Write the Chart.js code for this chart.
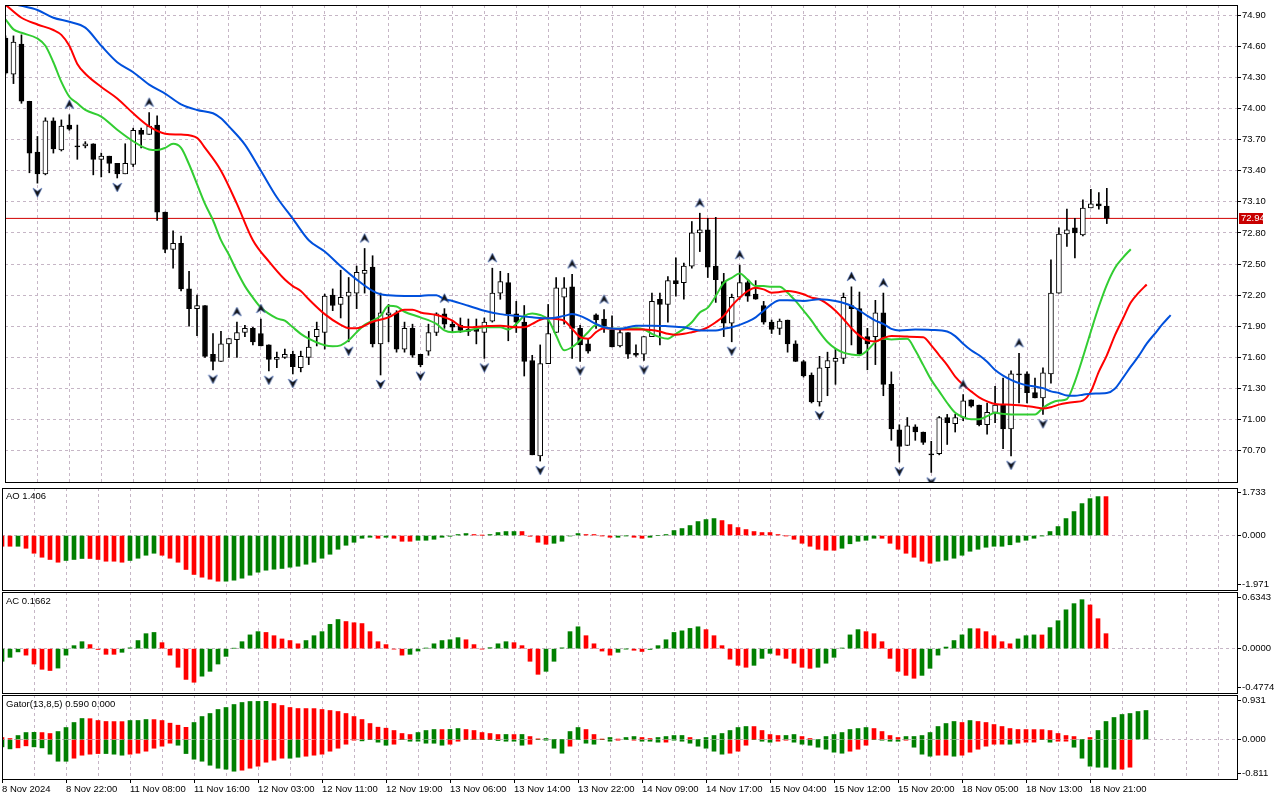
<!DOCTYPE html>
<html>
<head>
<meta charset="utf-8">
<title>Brent H1 - Alligator, AO, AC, Gator</title>
<script src="https://cdn.jsdelivr.net/npm/chart.js@4.4.1/dist/chart.umd.min.js"></script>
<style>
  html, body { margin: 0; padding: 0; background: #fff; }
  #wrap { position: relative; width: 1280px; height: 800px; overflow: hidden; font-family: 'Liberation Sans', Arial, sans-serif; }
  #wrap canvas { position: absolute; left: 0; }
  .lbl { position: absolute; left: 6px; font-size: 9.5px; line-height: 10px; color: #000; white-space: nowrap; }
</style>
</head>
<body>
<div id="wrap">
  <canvas id="main" width="1280" height="487" style="top:0px"></canvas>
  <canvas id="ao" width="1280" height="104" style="top:487px"></canvas>
  <canvas id="ac" width="1280" height="103" style="top:591px"></canvas>
  <canvas id="gator" width="1280" height="106" style="top:694px"></canvas>
  <div class="lbl" style="top:491px">AO 1.406</div>
  <div class="lbl" style="top:596px">AC 0.1662</div>
  <div class="lbl" style="top:699px">Gator(13,8,5) 0.590 0.000</div>
</div>
<script>
// ---- candles (H1) ----
const opens = [
  74.68,74.33,74.62,74.07,73.58,73.37,73.88,73.60,73.84,73.64,
  73.64,73.66,73.51,73.54,73.47,73.37,73.46,73.79,73.75,73.84,
  73.00,72.64,72.70,72.26,72.07,72.10,71.63,71.56,71.73,71.77,
  71.84,71.88,71.83,71.72,71.58,71.60,71.63,71.50,71.60,71.80,
  71.84,72.20,72.11,72.19,72.22,72.41,72.47,71.73,72.01,72.03,
  71.68,71.88,71.63,71.66,71.84,72.02,71.92,71.91,71.87,71.87,
  71.84,71.95,72.22,72.32,72.02,71.94,71.57,70.65,71.54,71.84,
  72.18,72.28,71.88,71.73,72.01,71.97,71.86,71.71,71.84,71.64,
  71.63,71.80,72.16,72.11,72.34,72.32,72.48,72.80,72.83,72.48,
  72.33,71.93,72.18,72.32,72.21,72.10,71.94,71.88,71.96,71.73,
  71.56,71.43,71.17,71.50,71.56,71.59,72.10,72.07,71.80,71.80,
  72.03,71.34,70.90,70.75,70.93,70.88,70.67,70.67,71.02,70.96,
  71.02,71.19,71.14,70.95,71.07,71.14,70.91,71.44,71.44,71.26,
  71.21,71.44,72.22,72.79,72.85,72.78,73.04,73.08,73.06
];
const highs = [
  74.70,74.70,74.71,74.07,73.73,73.91,73.91,73.89,73.94,73.84,
  73.68,73.66,73.57,73.54,73.47,73.66,73.81,73.81,73.96,73.93,
  73.00,72.82,72.77,72.43,72.20,72.10,71.83,71.85,71.78,71.94,
  71.91,71.89,71.97,71.72,71.65,71.68,71.66,71.66,71.85,71.94,
  72.21,72.26,72.44,72.37,72.48,72.65,72.58,72.22,72.11,72.05,
  71.94,71.92,71.63,71.92,72.03,72.07,71.95,71.98,71.97,71.97,
  71.98,72.46,72.43,72.41,72.14,72.10,71.62,71.72,72.11,72.37,
  72.37,72.40,71.91,71.78,72.02,72.06,72.00,71.88,71.84,71.72,
  71.80,72.22,72.22,72.38,72.56,72.51,72.91,72.99,72.94,72.95,
  72.41,72.21,72.49,72.34,72.34,72.14,71.96,71.97,71.96,71.76,
  71.57,71.45,71.61,71.65,71.68,72.22,72.28,72.23,71.88,72.15,
  72.22,71.46,70.95,71.02,70.95,70.88,70.79,71.03,71.05,71.05,
  71.24,71.19,71.14,71.16,71.32,71.40,71.47,71.64,71.46,71.40,
  71.50,72.54,72.85,73.03,72.94,73.12,73.22,73.19,73.23
];
const lows = [
  74.33,74.24,74.05,73.38,73.28,73.36,73.57,73.59,73.79,73.51,
  73.62,73.36,73.34,73.38,73.33,73.37,73.44,73.62,73.75,72.92,
  72.61,72.46,72.24,71.90,71.81,71.60,71.48,71.56,71.60,71.60,
  71.80,71.72,71.71,71.47,71.50,71.59,71.44,71.46,71.53,71.71,
  71.68,72.05,71.98,71.75,72.07,72.22,71.70,71.43,71.75,71.65,
  71.65,71.60,71.51,71.62,71.81,71.88,71.84,71.84,71.81,71.73,
  71.59,71.94,72.16,71.76,71.84,71.42,70.66,70.60,71.54,71.84,
  71.92,71.59,71.56,71.64,71.88,71.84,71.70,71.70,71.59,71.61,
  71.57,71.80,71.72,71.94,72.19,72.16,72.46,72.62,72.37,72.13,
  71.80,71.75,72.16,72.14,72.16,71.92,71.83,71.82,71.65,71.56,
  71.41,71.16,71.13,71.23,71.34,71.54,71.72,71.62,71.48,71.53,
  71.23,70.80,70.59,70.75,70.80,70.76,70.49,70.66,70.76,70.88,
  70.99,71.12,70.94,70.86,70.97,70.72,70.65,71.16,71.16,71.21,
  71.05,71.35,72.22,72.67,72.56,72.77,73.04,73.03,72.89
];
const closes = [
  74.34,74.64,74.07,73.57,73.37,73.88,73.61,73.83,73.80,73.63,
  73.66,73.51,73.54,73.47,73.37,73.47,73.79,73.75,73.83,73.00,
  72.64,72.70,72.26,72.07,72.10,71.61,71.56,71.73,71.78,71.84,
  71.88,71.75,71.71,71.58,71.60,71.63,71.51,71.61,71.70,71.87,
  72.19,72.10,72.18,72.23,72.42,72.44,71.73,72.03,72.03,71.68,
  71.88,71.62,71.53,71.84,72.02,71.92,71.89,71.86,71.85,71.85,
  71.94,72.22,72.33,72.02,71.94,71.56,70.66,71.54,71.83,72.27,
  72.27,71.88,71.72,71.66,71.96,71.90,71.70,71.84,71.63,71.62,
  71.80,72.14,72.11,72.34,72.31,72.48,72.80,72.83,72.47,72.35,
  71.93,72.18,72.32,72.19,72.16,71.94,71.87,71.95,71.73,71.56,
  71.42,71.17,71.50,71.57,71.59,72.18,72.07,71.63,71.73,72.03,
  71.34,70.91,70.74,70.94,70.88,70.78,70.66,71.02,70.97,71.02,
  71.18,71.13,70.95,71.07,71.14,70.91,71.44,71.43,71.26,71.21,
  71.45,72.22,72.79,72.83,72.80,73.04,73.08,73.06,72.94
];
const lastPrice = 72.94;

// bar indexes carrying Bill Williams fractal arrows
const fractalUp = [8, 18, 29, 32, 45, 55, 61, 71, 75, 87, 92, 106, 110, 120, 127];
const fractalDown = [4, 14, 26, 33, 36, 43, 47, 52, 60, 67, 72, 80, 91, 102, 112, 116, 126, 130];

// Alligator lines, [bar index, price] read at sample bars
const jawLine = [
  [0,75.02],[2,74.99],[4,74.95],[6,74.875],[8,74.836],[10,74.78],[12,74.605],[14,74.446],[16,74.35],[18,74.23],
  [20,74.144],[22,74.04],[24,73.986],[26,73.954],[27,73.906],[28,73.827],[30,73.652],[32,73.40],[34,73.144],[36,72.938],
  [38,72.73],[40,72.62],[42,72.478],[44,72.35],[46,72.24],[47,72.208],[48,72.198],[50,72.192],[52,72.192],[53,72.20],
  [54,72.198],[55,72.16],[56,72.144],[58,72.097],[60,72.05],[62,72.017],[64,72.0],[66,71.986],[68,71.976],[70,72.0],
  [71,72.017],[72,72.0],[73,71.963],[74,71.922],[75,71.89],[77,71.875],[79,71.906],[81,71.906],[83,71.90],[85,71.89],
  [87,71.86],[89,71.86],[90,71.875],[91,71.89],[92,71.913],[93,71.944],[94,71.986],[95,72.05],[96,72.113],[97,72.151],
  [98,72.151],[100,72.144],[102,72.16],[104,72.144],[106,72.097],[108,72.0],[109,71.954],[110,71.922],[111,71.875],[112,71.86],
  [114,71.868],[116,71.865],[118,71.849],[119,71.805],[120,71.732],[121,71.668],[122,71.62],[123,71.557],[124,71.478],[125,71.424],
  [126,71.383],[127,71.351],[128,71.33],[129,71.32],[130,71.303],[131,71.272],[132,71.256],[133,71.233],[134,71.23],[135,71.24],
  [136,71.25],[138,71.256],[139,71.297],[140,71.40],[141,71.51],[142,71.614],[143,71.732],[144,71.827],[145,71.922],[146,72.008]
];
const teethLine = [
  [0,75.0],[2,74.875],[4,74.81],[6,74.757],[7,74.71],[8,74.605],[9,74.43],[10,74.335],[12,74.208],[14,74.097],
  [16,73.954],[18,73.827],[20,73.757],[22,73.748],[24,73.716],[25,73.62],[27,73.40],[29,73.08],[31,72.73],[33,72.525],
  [35,72.35],[36,72.287],[37,72.24],[38,72.16],[40,72.017],[42,71.913],[43,71.881],[44,71.881],[46,71.944],[48,71.986],
  [50,72.06],[51,72.06],[52,72.033],[54,72.008],[56,71.954],[57,71.90],[58,71.89],[60,71.90],[62,71.906],[64,71.89],
  [65,71.89],[66,71.922],[67,71.963],[68,71.976],[69,71.97],[70,71.954],[71,71.875],[72,71.795],[73,71.78],[74,71.843],
  [75,71.881],[76,71.875],[78,71.868],[80,71.868],[82,71.849],[83,71.827],[84,71.817],[85,71.827],[86,71.843],[87,71.86],
  [88,71.89],[89,71.938],[90,72.0],[91,72.097],[92,72.176],[93,72.24],[94,72.271],[95,72.256],[96,72.224],[97,72.23],
  [98,72.24],[99,72.23],[100,72.208],[101,72.176],[102,72.16],[103,72.113],[104,72.05],[105,71.97],[106,71.881],[107,71.81],
  [108,71.764],[109,71.754],[110,71.786],[111,71.805],[113,71.80],[115,71.795],[116,71.716],[117,71.62],[118,71.525],[119,71.414],
  [120,71.335],[121,71.272],[122,71.214],[123,71.176],[124,71.151],[126,71.144],[127,71.138],[128,71.129],[129,71.119],[130,71.106],
  [131,71.119],[132,71.144],[133,71.16],[134,71.17],[135,71.183],[136,71.272],[137,71.462],[138,71.62],[139,71.81],[140,71.97],
  [141,72.129],[142,72.224],[143,72.303]
];
const lipsLine = [
  [0,74.86],[1,74.763],[2,74.73],[4,74.675],[5,74.605],[6,74.446],[7,74.256],[8,74.113],[9,74.05],[10,73.986],
  [12,73.922],[14,73.795],[16,73.684],[18,73.605],[19,73.60],[20,73.62],[21,73.659],[22,73.62],[23,73.462],[24,73.271],
  [25,73.08],[26,72.922],[27,72.73],[28,72.589],[29,72.43],[30,72.287],[31,72.176],[32,72.08],[34,71.976],[35,71.954],
  [36,71.89],[37,71.827],[38,71.78],[40,71.716],[41,71.706],[42,71.716],[43,71.764],[44,71.843],[45,71.913],[46,71.954],
  [47,72.0],[48,72.097],[49,72.09],[50,72.04],[52,71.986],[54,71.922],[55,71.86],[56,71.843],[58,71.86],[60,71.89],
  [62,71.89],[63,71.868],[64,71.922],[65,72.0],[66,72.024],[67,72.008],[68,71.963],[69,71.81],[70,71.668],[71,71.70],
  [72,71.764],[73,71.843],[74,71.913],[75,71.89],[76,71.875],[78,71.875],[79,71.881],[80,71.868],[81,71.827],[82,71.795],
  [83,71.78],[84,71.827],[85,71.875],[86,71.938],[87,72.033],[88,72.08],[89,72.192],[90,72.319],[91,72.367],[92,72.408],
  [93,72.35],[94,72.287],[95,72.287],[96,72.281],[97,72.281],[98,72.224],[99,72.144],[100,72.05],[101,71.954],[102,71.843],
  [103,71.748],[104,71.684],[105,71.646],[106,71.627],[107,71.62],[108,71.668],[109,71.748],[110,71.78],[111,71.773],[113,71.78],
  [114,71.668],[115,71.525],[116,71.383],[117,71.272],[118,71.16],[119,71.065],[120,71.024],[121,71.002],[122,71.002],[123,71.033],
  [124,71.065],[125,71.055],[126,71.049],[129,71.049],[130,71.113],[131,71.16],[132,71.183],[133,71.198],[134,71.367],[135,71.60],
  [136,71.85],[137,72.09],[138,72.30],[139,72.46],[140,72.56],[141,72.643]
];

// Awesome Oscillator
const aoValues = [
  -0.43,-0.43,-0.43,-0.51,-0.71,-0.87,-0.96,-1.07,-1.00,-0.96,
  -0.92,-0.92,-0.96,-1.03,-1.03,-1.07,-1.00,-0.91,-0.79,-0.71,
  -0.79,-0.91,-1.07,-1.36,-1.56,-1.67,-1.75,-1.83,-1.83,-1.79,
  -1.71,-1.59,-1.47,-1.39,-1.35,-1.32,-1.27,-1.23,-1.15,-1.07,
  -0.91,-0.75,-0.55,-0.39,-0.27,-0.11,-0.07,-0.11,-0.07,-0.11,
  -0.23,-0.23,-0.19,-0.19,-0.15,-0.07,-0.03,0.04,0.08,0.04,
  0.01,0.04,0.12,0.16,0.16,0.16,-0.03,-0.27,-0.35,-0.31,
  -0.23,-0.02,0.08,0.04,0.04,-0.01,-0.07,-0.07,-0.01,-0.07,
  -0.11,-0.07,0.00,0.04,0.20,0.28,0.40,0.56,0.64,0.68,
  0.60,0.44,0.32,0.24,0.16,0.12,0.12,0.04,-0.01,-0.15,
  -0.31,-0.43,-0.55,-0.59,-0.59,-0.51,-0.33,-0.23,-0.19,-0.11,
  -0.11,-0.31,-0.55,-0.71,-0.87,-1.03,-1.11,-1.03,-0.99,-0.91,
  -0.79,-0.63,-0.55,-0.47,-0.43,-0.43,-0.37,-0.27,-0.19,-0.11,
  -0.01,0.16,0.36,0.68,0.96,1.28,1.48,1.56,1.56
];
const aoColors = 'rrgrrrrrgg' + 'grrrrrgggg' + 'rrrrrrrrgg' + 'gggggggggg' + 'gggggggrgr' +
  'rrgggggggr' + 'rggggrrrrg' + 'gggrrrrggr' + 'rggggggggg' + 'rrrrrrrrrr' +
  'rrrrrggggg' + 'rrrrrrrggg' + 'gggggggggg' + 'ggggggggr';

// Accelerator Oscillator
const acValues = [
  -0.156,-0.107,-0.04,-0.08,-0.19,-0.255,-0.27,-0.24,-0.08,0.037,
  0.086,0.05,-0.01,-0.07,-0.07,-0.045,0.01,0.10,0.185,0.20,
  0.074,-0.08,-0.23,-0.38,-0.415,-0.34,-0.28,-0.19,-0.095,0.005,
  0.086,0.17,0.21,0.20,0.16,0.12,0.10,0.06,0.10,0.16,
  0.21,0.30,0.36,0.335,0.32,0.31,0.21,0.086,0.05,-0.005,
  -0.08,-0.07,-0.03,0.008,0.06,0.10,0.11,0.136,0.11,0.05,
  -0.004,0.012,0.06,0.086,0.074,0.037,-0.156,-0.317,-0.28,-0.156,
  0.01,0.21,0.27,0.16,0.06,-0.03,-0.08,-0.045,-0.003,-0.02,
  -0.035,-0.01,0.037,0.11,0.20,0.22,0.25,0.27,0.235,0.16,
  0.037,-0.13,-0.206,-0.23,-0.206,-0.12,-0.058,-0.08,-0.12,-0.18,
  -0.23,-0.243,-0.23,-0.18,-0.107,0.008,0.17,0.235,0.21,0.185,
  0.086,-0.12,-0.28,-0.33,-0.366,-0.33,-0.243,-0.08,0.02,0.10,
  0.17,0.247,0.246,0.21,0.16,0.086,0.06,0.12,0.16,0.17,
  0.169,0.26,0.345,0.48,0.556,0.605,0.54,0.37,0.185
];
const acColors = 'gggrrrrggg' + 'grrrrggggg' + 'rrrrrggggg' + 'gggrrrrrgg' + 'gggrrrrrrr' +
  'rgggggggrr' + 'rgggrrrrgg' + 'gggrrrrggr' + 'rgggggggrr' + 'rrrrgggrrr' +
  'rrggggggrr' + 'rrrrrggggg' + 'ggrrrrrggg' + 'rgggggrrr';

// Gator: upper |jaw - teeth| and lower |teeth - lips| (drawn below zero)
const gatorUpper = [
  0.048,0.024,0.095,0.166,0.17,0.165,0.143,0.19,0.285,0.404,
  0.499,0.495,0.451,0.428,0.426,0.425,0.451,0.452,0.475,0.473,
  0.451,0.388,0.34,0.29,0.404,0.546,0.618,0.713,0.76,0.831,
  0.879,0.903,0.905,0.906,0.855,0.808,0.76,0.736,0.735,0.734,
  0.713,0.689,0.665,0.618,0.546,0.475,0.38,0.293,0.269,0.214,
  0.143,0.119,0.166,0.214,0.238,0.237,0.24,0.261,0.238,0.214,
  0.166,0.143,0.119,0.12,0.118,0.12,0.071,0.016,0.024,0,
  0,0.19,0.285,0.238,0.119,0.008,0.048,0.008,0.048,0.071,
  0.048,0.024,0.048,0.071,0.095,0.096,0.048,0,0.048,0.095,
  0.143,0.214,0.285,0.309,0.308,0.214,0.119,0.095,0.096,0.119,
  0.071,0.024,0,0.071,0.119,0.166,0.238,0.261,0.285,0.261,
  0.19,0.095,0.048,0.071,0.072,0.095,0.166,0.309,0.38,0.428,
  0.404,0.451,0.428,0.404,0.356,0.309,0.261,0.238,0.237,0.236,
  0.235,0.214,0.143,0.095,0.071,0,0.048,0.214,0.428,0.523,
  0.594,0.618,0.665,0.689
];
const gatorUpperColors = 'rrgggrrggg' + 'grrrrrgggr' + 'rrrrgggggg' + 'ggggrrrrrr' + 'rrrrrrrrrr' +
  'rrgggrggrr' + 'rrrgrgrrgg' + 'gggrrrgrgg' + 'rrggggrggg' + 'ggggrrrrgg' +
  'rrgggggggr' + 'rrrggggggg' + 'rgrrrrrrrr' + 'rrrrrgrggg' + 'gggg';
const gatorLower = [
  0.174,0.222,0.198,0.15,0.174,0.198,0.348,0.515,0.516,0.443,
  0.372,0.348,0.333,0.333,0.348,0.372,0.348,0.325,0.277,0.206,
  0.158,0.087,0.135,0.333,0.467,0.515,0.61,0.681,0.705,0.752,
  0.728,0.681,0.633,0.538,0.491,0.443,0.444,0.42,0.396,0.372,
  0.348,0.277,0.206,0.111,0.016,0.032,0,0.063,0.135,0.111,
  0,0.04,0.04,0.087,0.088,0.135,0.111,0.04,0,0,
  0,0,0.024,0.04,0.04,0.135,0.111,0,0.016,0.206,
  0.325,0.158,0,0.087,0.111,0,0.04,0.016,0,0.016,
  0.04,0.04,0.063,0.062,0.016,0.04,0.087,0.158,0.206,0.277,
  0.348,0.325,0.277,0.135,0,0.04,0.063,0.04,0.016,0.063,
  0.111,0.135,0.182,0.23,0.30,0.325,0.277,0.23,0.135,0,
  0.016,0.04,0.041,0.016,0.182,0.348,0.396,0.372,0.371,0.396,
  0.372,0.30,0.23,0.158,0.111,0.11,0.111,0.087,0.063,0.062,
  0,0.063,0.04,0.039,0.182,0.443,0.633,0.657,0.658,0.705,
  0.704,0.657
];
const gatorLowerColors = 'ggrrgggggr' + 'rrrgggrrrr' + 'rrgggggggg' + 'rrrrrrggrr' + 'rrrrrggggr' +
  'ggggggrrgg' + 'ggggggrggg' + 'grgggggrgr' + 'gggrgggggg' + 'grrrgggrrg' +
  'ggggggrrrg' + 'gggrgggrrg' + 'rrrrrrgrrr' + 'ggrrgggggg' + 'rr';

// axis tick values
const priceTicks = [74.90, 74.60, 74.30, 74.00, 73.70, 73.40, 73.10, 72.80, 72.50, 72.20, 71.90, 71.60, 71.30, 71.00, 70.70];
const aoTicks = [1.733, 0, -1.971];
const acTicks = [0.6343, 0, -0.4774];
const gatorTicks = [0.931, 0, -0.811];
const timeLabels = ['8 Nov 2024', '8 Nov 22:00', '11 Nov 08:00', '11 Nov 16:00', '12 Nov 03:00', '12 Nov 11:00',
  '12 Nov 19:00', '13 Nov 06:00', '13 Nov 14:00', '13 Nov 22:00', '14 Nov 09:00', '14 Nov 17:00',
  '15 Nov 04:00', '15 Nov 12:00', '15 Nov 20:00', '18 Nov 05:00', '18 Nov 13:00', '18 Nov 21:00'];

// ---- look ----
const FONT = { family: "'Liberation Sans', Arial, sans-serif", size: 9.5 };
const GRID = '#c6b6c6';
const GREEN = '#008000';
const RED = '#ff0000';
const CLEAR = 'rgba(0,0,0,0)';
const AXIS_W = 43;
const BAR_PX = 8;
const X_MIN = -0.0625;
const X_MAX = X_MIN + 1235 / BAR_PX;

Chart.defaults.font.family = FONT.family;
Chart.defaults.animation = false;

const gridIdx = [];
for (let v = 0; v <= 152; v += 4) gridIdx.push(v);

// labels may overflow the plot box, as in the terminal: no extra padding
function noPad(s) {
  s.paddingTop = 0;
  s.paddingBottom = 0;
  s.paddingLeft = 0;
  s.paddingRight = 0;
}

function xScale(showLabels, xmin) {
  return {
    type: 'linear',
    position: 'bottom',
    min: xmin,
    max: xmin + 1235 / BAR_PX,
    offset: false,
    afterBuildTicks: s => { s.ticks = gridIdx.map(v => ({ value: v })); },
    afterFit: s => { s.height = showLabels ? 21 : 0; noPad(s); },
    grid: {
      offset: false,
      color: GRID,
      drawTicks: showLabels,
      tickLength: 4,
      tickColor: c => (c.tick && c.tick.value % 8 === 0 && c.tick.value <= 136) ? '#000' : CLEAR
    },
    border: { display: false, dash: [3, 3] },
    ticks: {
      display: showLabels,
      autoSkip: false,
      maxRotation: 0,
      minRotation: 0,
      align: 'start',
      padding: 1,
      color: '#000',
      font: FONT,
      callback: v => (v % 8 === 0 && timeLabels[v / 8]) ? timeLabels[v / 8] : ''
    }
  };
}

function yScale(min, max, ticks, digits, zeroOnly) {
  return {
    type: 'linear',
    position: 'right',
    min: min,
    max: max,
    beginAtZero: false,
    afterBuildTicks: s => { s.ticks = ticks.map(v => ({ value: v })); },
    afterFit: s => { s.width = AXIS_W; noPad(s); },
    grid: {
      color: c => (!zeroOnly || (c.tick && c.tick.value === 0)) ? GRID : CLEAR,
      tickLength: 4,
      tickColor: '#000'
    },
    border: { display: false, dash: [3, 3] },
    ticks: { padding: 1, color: '#000', font: FONT, callback: v => Number(v).toFixed(digits) }
  };
}

const framePlugin = {
  id: 'frame',
  afterDraw(chart) {
    const { ctx, chartArea: a } = chart;
    ctx.save();
    ctx.strokeStyle = '#000';
    ctx.lineWidth = 1;
    ctx.strokeRect(a.left + 0.5, a.top + 0.5, a.right - a.left, a.bottom - a.top);
    ctx.restore();
  }
};

const priceTagPlugin = {
  id: 'priceTag',
  afterDraw(chart) {
    const { ctx, scales } = chart;
    const y = Math.round(scales.y.getPixelForValue(lastPrice));
    ctx.save();
    ctx.fillStyle = '#c80000';
    ctx.fillRect(chart.chartArea.right + 2, y - 5, 24, 11);
    ctx.fillStyle = '#fff';
    ctx.font = FONT.size + 'px ' + FONT.family;
    ctx.textBaseline = 'middle';
    ctx.fillText(lastPrice.toFixed(2), chart.chartArea.right + 4, y + 0.5);
    ctx.restore();
  }
};

// fractal arrow glyphs, offset from the bar high / low
function arrowGlyph(up) {
  const c = document.createElement('canvas');
  c.width = 11;
  c.height = 40;
  const g = c.getContext('2d');
  g.beginPath();
  if (up) {
    g.moveTo(5.5, 5); g.lineTo(10, 14); g.lineTo(5.5, 11); g.lineTo(1, 14);
  } else {
    g.moveTo(5.5, 34); g.lineTo(10, 25); g.lineTo(5.5, 28); g.lineTo(1, 25);
  }
  g.closePath();
  g.fillStyle = '#151515';
  g.fill();
  g.lineWidth = 0.7;
  g.strokeStyle = 'rgba(60,100,190,0.8)';
  g.stroke();
  return c;
}

function lineSet(points, color) {
  return {
    type: 'line',
    data: points.map(([x, y]) => ({ x, y })),
    borderColor: color,
    borderWidth: 2,
    pointRadius: 0,
    cubicInterpolationMode: 'monotone',
    order: 2
  };
}

const idx = opens.map((_, i) => i);

new Chart(document.getElementById('main'), {
  type: 'bar',
  data: {
    datasets: [
      {
        type: 'line',
        data: [{ x: X_MIN, y: lastPrice }, { x: X_MAX, y: lastPrice }],
        borderColor: '#d00000',
        borderWidth: 1,
        pointRadius: 0,
        order: 6
      },
      {
        data: idx.map(i => ({ x: i, y: [lows[i], highs[i]] })),
        backgroundColor: '#000',
        borderWidth: 0,
        barThickness: 1,
        grouped: false,
        order: 5
      },
      {
        data: idx.map(i => ({ x: i, y: [opens[i], closes[i]] })),
        backgroundColor: idx.map(i => closes[i] >= opens[i] ? '#fff' : '#000'),
        borderColor: '#000',
        borderWidth: 1,
        borderSkipped: false,
        barThickness: 5,
        minBarLength: 1,
        grouped: false,
        order: 4
      },
      lineSet(jawLine, '#0050dc'),
      lineSet(teethLine, '#ff0000'),
      lineSet(lipsLine, '#32cd32'),
      {
        type: 'scatter',
        data: fractalUp.map(i => ({ x: i, y: highs[i] })),
        pointStyle: arrowGlyph(true),
        order: 1
      },
      {
        type: 'scatter',
        data: fractalDown.map(i => ({ x: i, y: lows[i] })),
        pointStyle: arrowGlyph(false),
        order: 1
      }
    ]
  },
  options: {
    responsive: false,
    animation: false,
    layout: { padding: { left: 2, right: 0, top: 2, bottom: 2 } },
    plugins: { legend: { display: false }, tooltip: { enabled: false } },
    scales: {
      x: xScale(false, X_MIN),
      y: yScale(70.398, 74.998, priceTicks, 2, false)
    }
  },
  plugins: [framePlugin, priceTagPlugin]
});

function histSet(values, colors, sign) {
  return {
    data: values.map((v, i) => ({ x: i, y: sign * v })),
    backgroundColor: values.map((v, i) => colors[i] === 'g' ? GREEN : RED),
    borderWidth: 0,
    barThickness: 4,
    grouped: false
  };
}

function panel(id, datasets, ymin, ymax, ticks, digits, pad, showTime) {
  new Chart(document.getElementById(id), {
    type: 'bar',
    data: { datasets },
    options: {
      responsive: false,
      animation: false,
      layout: { padding: { left: 2, right: 0, top: pad[0], bottom: pad[1] } },
      plugins: { legend: { display: false }, tooltip: { enabled: false } },
      scales: {
        x: xScale(showTime, 0),
        y: yScale(ymin, ymax, ticks, digits, true)
      }
    },
    plugins: [framePlugin]
  });
}

panel('ao', [histSet(aoValues, aoColors, 1)], -2.183, 1.905, aoTicks, 3, [1, 1], false);
panel('ac', [histSet(acValues, acColors, 1)], -0.5478, 0.6998, acTicks, 4, [1, 1], false);
panel('gator', [histSet(gatorUpper, gatorUpperColors, 1), histSet(gatorLower, gatorLowerColors, -1)],
  -0.9368, 1.0568, gatorTicks, 3, [1, 0], true);
</script>
</body>
</html>
